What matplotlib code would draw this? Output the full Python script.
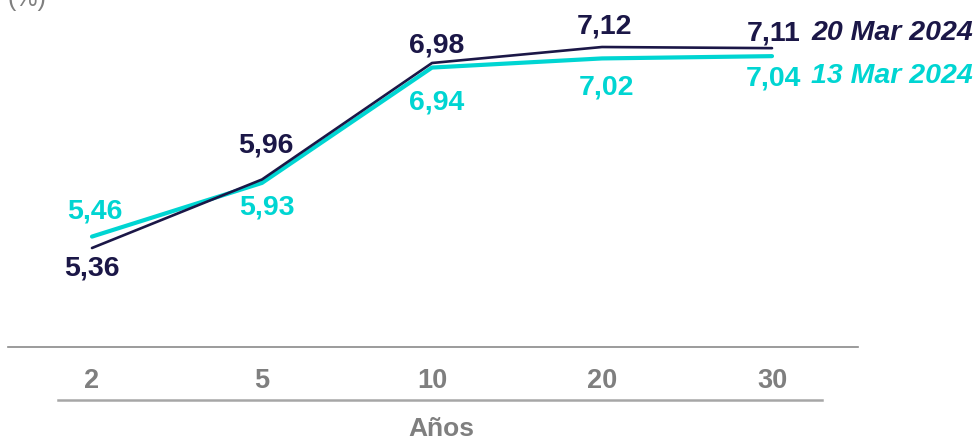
import matplotlib.pyplot as plt
from matplotlib.font_manager import fontManager

# Data
plazos = ['2', '5', '10', '20', '30']
curva_20mar = [5.36, 5.96, 6.98, 7.12, 7.11]
curva_13mar = [5.46, 5.93, 6.94, 7.02, 7.04]
etiqueta_20mar = '20 Mar 2024'
etiqueta_13mar = '13 Mar 2024'

navy = '#1b1747'
cyan = '#00d5d2'
gray = '#7f7f7f'

names = {f.name for f in fontManager.ttflist}
narrow = 'Liberation Sans Narrow' if 'Liberation Sans Narrow' in names else 'Liberation Sans'
plt.rcParams['font.family'] = ['Liberation Sans', 'DejaVu Sans']

fig = plt.figure(figsize=(9.74, 4.43), dpi=100)
ax = fig.add_axes([0, 0, 1, 1])
ax.set_axis_off()

# axes spans whole figure; x index i -> px 92 + 170*i ; value v -> px 248 - (v-5.36)*114.2
ax.set_xlim(-92 / 170, (974 - 92) / 170)
ax.set_ylim(5.36 - 195 / 114.2, 5.36 + 248 / 114.2)

x = list(range(len(plazos)))
ax.plot(x, curva_13mar, color=cyan, lw=3.0, solid_capstyle='round', zorder=2)
ax.plot(x, curva_20mar, color=navy, lw=1.9, solid_capstyle='round', zorder=3)

# value labels (offsets in pixels)
fs = 20.5
off_20 = [(0, -20), (4, 34), (5, 17), (3, 21), (2, 15)]
off_13 = [(3, 25), (5, -25), (5, -35), (4, -29), (1, -22)]
for i, (v, o) in enumerate(zip(curva_20mar, off_20)):
    ax.annotate(f'{v:.2f}'.replace('.', ','), (i, v), xytext=o, textcoords='offset pixels',
                ha='center', va='center', fontsize=fs, fontweight='bold', color=navy)
for i, (v, o) in enumerate(zip(curva_13mar, off_13)):
    ax.annotate(f'{v:.2f}'.replace('.', ','), (i, v), xytext=o, textcoords='offset pixels',
                ha='center', va='center', fontsize=fs, fontweight='bold', color=cyan)

# series names
ax.annotate(etiqueta_20mar, (4, curva_20mar[-1]), xytext=(39, 15), textcoords='offset pixels',
            ha='left', va='center', fontsize=20.5, fontweight='bold', style='italic', color=navy)
ax.annotate(etiqueta_13mar, (4, curva_13mar[-1]), xytext=(39, -20), textcoords='offset pixels',
            ha='left', va='center', fontsize=20.5, fontweight='bold', style='italic', color=cyan)

# axis lines and labels in figure pixels
def fx(px):
    return px / 974

def fy(py):
    return 1 - py / 443

fig.add_artist(plt.Line2D([fx(8), fx(858)], [fy(347), fy(347)], color='#8a8a8a', lw=1.2))
fig.add_artist(plt.Line2D([fx(58), fx(822)], [fy(400), fy(400)], color='#a6a6a6', lw=1.8))
for i, lab in enumerate(plazos):
    fig.text(fx(92 + 170 * i), fy(381), lab, ha='center', va='center',
             fontsize=19.5, fontweight='bold', color=gray, family=[narrow, 'DejaVu Sans'])
fig.text(fx(441), fy(429), 'Años', ha='center', va='center',
         fontsize=19, fontweight='bold', color=gray, family=[narrow, 'DejaVu Sans'])
fig.text(fx(27), fy(-1), '(%)', ha='center', va='center', fontsize=18, color=gray)

fig.savefig('out.png', dpi=100)
